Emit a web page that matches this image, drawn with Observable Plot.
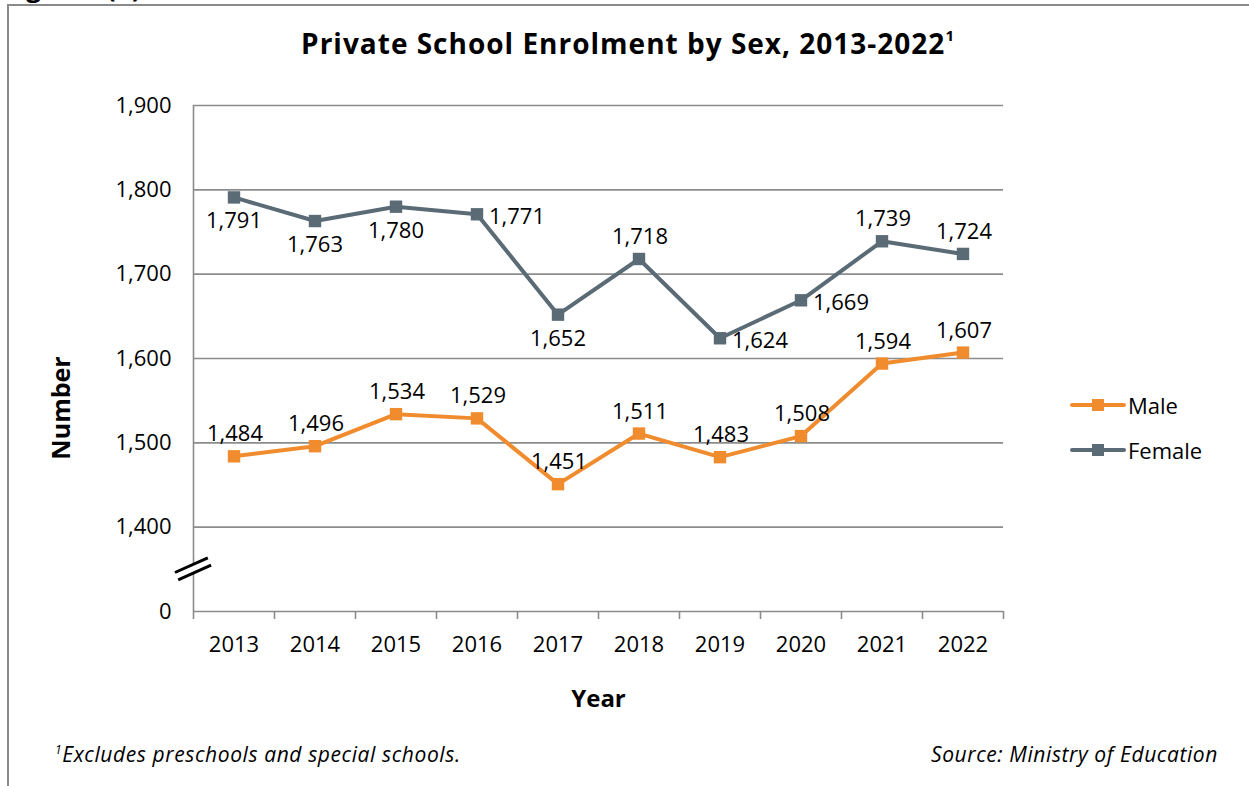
<!DOCTYPE html>
<html>
<head>
<meta charset="utf-8">
<script src="https://cdn.jsdelivr.net/npm/d3@7"></script>
<script src="https://cdn.jsdelivr.net/npm/@observablehq/plot@0.6"></script>
<style>
  html, body { margin: 0; padding: 0; background: #fff; }
  #wrap { position: relative; width: 1249px; height: 786px; overflow: hidden; background: #fff; font-family: "Open Sans", Lato, sans-serif; color: #000; }
  .fig { position: absolute; left: 4px; top: -31px; font-size: 26px; font-weight: bold; }
  .frame { position: absolute; left: 7px; top: 4px; width: 1400px; height: 900px; border-top: 2px solid #8a8a8a; border-left: 2px solid #8a8a8a; }
  .title { position: absolute; top: 24px; left: 0; width: 1256px; text-align: center; font-size: 28px; font-weight: bold; letter-spacing: 1px; }
  .title sup { font-size: 15px; vertical-align: 0; position: relative; top: -13px; }
  #chart { position: absolute; left: 0; top: 0; }
  .ylab { position: absolute; left: 60px; top: 408px; width: 0; height: 0; }
  .ylab span { position: absolute; transform: translate(-50%, -50%) rotate(-90deg); white-space: nowrap; font-size: 25px; font-weight: bold; }
  .legend { position: absolute; left: 1070px; font-size: 22px; display: flex; align-items: center; }
  .legend svg { margin-right: 2px; }
  .note { position: absolute; top: 740px; font-size: 21px; font-style: italic; letter-spacing: 0.6px; }
  .note sup { font-size: 12px; vertical-align: 0; position: relative; top: -8px; }
</style>
</head>
<body>
<div id="wrap">
  <div class="fig">Figure 4(b)</div>
  <div class="frame"></div>
  <div class="title">Private School Enrolment by Sex, 2013-2022<sup>1</sup></div>
  <div id="chart"></div>
  <div class="ylab"><span>Number</span></div>
  <div class="legend" id="lg-male" style="top:390px"></div>
  <div class="legend" id="lg-female" style="top:435px"></div>
  <div class="note" style="left:55px"><sup>1</sup>Excludes preschools and special schools.</div>
  <div class="note" style="right:31px">Source: Ministry of Education</div>
</div>
<script>
// ---- data ----
const years = [2013, 2014, 2015, 2016, 2017, 2018, 2019, 2020, 2021, 2022];
const male = [1484, 1496, 1534, 1529, 1451, 1511, 1483, 1508, 1594, 1607];
const female = [1791, 1763, 1780, 1771, 1652, 1718, 1624, 1669, 1739, 1724];
const maleLabelPos = ["above", "above", "above", "above", "above", "above", "above", "above", "above", "above"];
const femaleLabelPos = ["below", "below", "below", "right", "below", "above", "right", "right", "above", "above"];
const yTicks = [1300, 1400, 1500, 1600, 1700, 1800, 1900];
const yTickLabels = ["0", "1,400", "1,500", "1,600", "1,700", "1,800", "1,900"];
const seriesNames = ["Male", "Female"];
const seriesColors = ["#F08C2E", "#5B6B76"];

// ---- table ----
const rows = [];
years.forEach((yr, i) => {
  rows.push({year: yr, value: male[i], series: "Male", pos: maleLabelPos[i]});
  rows.push({year: yr, value: female[i], series: "Female", pos: femaleLabelPos[i]});
});
const fmt = d3.format(",");
const boundaries = years.map(y => y - 0.5).concat([years[years.length - 1] + 0.5]);
const breakY = (yTicks[0] + yTicks[1]) / 2;
const gridColor = "#8c8c8c";
const FONT = "'Open Sans', Lato, sans-serif";

const breakMark = (index, scales) => {
  const x = scales.x(boundaries[0]);
  const y = scales.y(breakY);
  const g = d3.create("svg:g");
  const a = -24 * Math.PI / 180;
  const L = 18, gap = 4;
  const ux = Math.cos(a), uy = Math.sin(a);
  const nx = -uy, ny = ux;
  g.append("polygon")
    .attr("points", [
      [x - L * ux - gap * nx, y - L * uy - gap * ny],
      [x + L * ux - gap * nx, y + L * uy - gap * ny],
      [x + L * ux + gap * nx, y + L * uy + gap * ny],
      [x - L * ux + gap * nx, y - L * uy + gap * ny]
    ].map(p => p.join(",")).join(" "))
    .attr("fill", "#fff");
  [-gap, gap].forEach(o => {
    g.append("line")
      .attr("x1", x - L * ux + o * nx).attr("y1", y - L * uy + o * ny)
      .attr("x2", x + L * ux + o * nx).attr("y2", y + L * uy + o * ny)
      .attr("stroke", "#000").attr("stroke-width", 3);
  });
  return g.node();
};

const chart = Plot.plot({
  width: 1249,
  height: 720,
  marginTop: 105,
  marginBottom: 109,
  marginLeft: 193,
  marginRight: 246,
  x: {domain: [boundaries[0], boundaries[boundaries.length - 1]]},
  y: {domain: [yTicks[0], yTicks[yTicks.length - 1]]},
  color: {domain: seriesNames, range: seriesColors},
  style: {fontFamily: FONT, fontSize: "22px", color: "#000", background: "transparent", overflow: "visible"},
  marks: [
    Plot.ruleY(yTicks, {stroke: gridColor, strokeWidth: 1.6}),
    Plot.ruleX([boundaries[0]], {y1: yTicks[0], y2: yTicks[yTicks.length - 1], stroke: gridColor, strokeWidth: 1.6}),
    Plot.axisX({ticks: boundaries, tickSize: 8, tickFormat: () => "", stroke: gridColor, strokeWidth: 1.6, label: null}),
    Plot.axisX({ticks: years, tickSize: 0, tickPadding: 25, tickFormat: d => String(d), label: null, fontSize: 22}),
    Plot.axisY({ticks: yTicks, tickSize: 0, tickPadding: 22, tickFormat: d => yTickLabels[yTicks.indexOf(d)], label: null, fontSize: 22}),
    Plot.text(["Year"], {frameAnchor: "bottom", lineAnchor: "middle", dy: 88, fontWeight: "bold", fontSize: 24}),
    breakMark,
    Plot.line(rows, {x: "year", y: "value", z: "series", stroke: "series", strokeWidth: 4}),
    Plot.dot(rows, {x: "year", y: "value", fill: "series", symbol: "square", r: 7}),
    Plot.text(rows.filter(d => d.pos === "above"), {x: "year", y: "value", text: d => fmt(d.value), dy: -22, dx: 1, fontSize: 22}),
    Plot.text(rows.filter(d => d.pos === "below"), {x: "year", y: "value", text: d => fmt(d.value), dy: 24, fontSize: 22}),
    Plot.text(rows.filter(d => d.pos === "right"), {x: "year", y: "value", text: d => fmt(d.value), dx: 12, dy: 3, textAnchor: "start", fontSize: 22})
  ]
});
document.getElementById("chart").appendChild(chart);

// ---- legend ----
seriesNames.forEach((name, i) => {
  const el = document.getElementById(name === "Male" ? "lg-male" : "lg-female");
  const c = seriesColors[i];
  el.innerHTML = `<svg width="56" height="20"><line x1="2" y1="10" x2="54" y2="10" stroke="${c}" stroke-width="4" stroke-linecap="round"/><rect x="22" y="4" width="12" height="12" fill="${c}"/></svg><span>${name}</span>`;
});
</script>
</body>
</html>
